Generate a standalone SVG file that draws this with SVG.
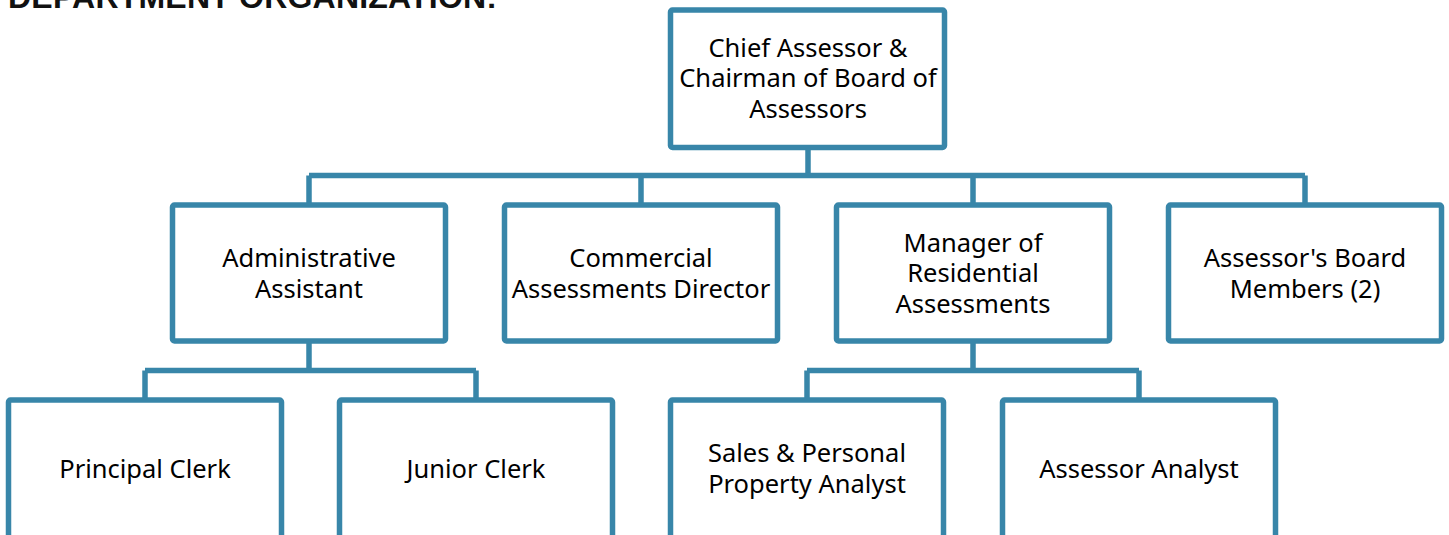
<svg xmlns="http://www.w3.org/2000/svg" width="1449" height="535" viewBox="0 0 1449 535">
<style>
.box{fill:#fff;stroke:#3886a9;stroke-width:5.5;}
.con{fill:none;stroke:#3886a9;stroke-width:5.5;}
.t{font-family:"Noto Sans","Open Sans",sans-serif;font-size:25.5px;fill:#000;text-anchor:middle;}
.title{font-family:"Liberation Sans",Arial,sans-serif;font-weight:bold;font-size:32px;fill:#111;}
</style>
<rect width="1449" height="535" fill="#fff"/>
<text class="title" x="8" y="8" textLength="489">DEPARTMENT ORGANIZATION:</text>
<g id="connectors">
<path class="con" d="M808 147.5V175.5M309 175.5H1305M309 175.5V205M641 175.5V205M973 175.5V205M1305 175.5V205"/>
<path class="con" d="M309 341V370.5M145 370.5H476M145 370.5V400M476 370.5V400"/>
<path class="con" d="M973 341V370.5M807 370.5H1139M807 370.5V400M1139 370.5V400"/>
</g>
<g id="chief"><rect class="box" x="670.5" y="10" width="274" height="137.5" rx="2"/>
<text class="t" x="808" y="56.5">Chief Assessor &amp;</text><text class="t" x="808" y="87.3">Chairman of Board of</text><text class="t" x="808" y="118">Assessors</text></g>
<g id="admin"><rect class="box" x="172.5" y="205" width="273" height="136" rx="2"/>
<text class="t" x="309" y="267.3">Administrative</text><text class="t" x="309" y="297.5">Assistant</text></g>
<g id="commercial"><rect class="box" x="504.5" y="205" width="273" height="136" rx="2"/>
<text class="t" x="641" y="267.3">Commercial</text><text class="t" x="641" y="297.5">Assessments Director</text></g>
<g id="manager"><rect class="box" x="836.5" y="205" width="273" height="136" rx="2"/>
<text class="t" x="973" y="251.5">Manager of</text><text class="t" x="973" y="282">Residential</text><text class="t" x="973" y="313">Assessments</text></g>
<g id="board"><rect class="box" x="1168.5" y="205" width="273" height="136" rx="2"/>
<text class="t" x="1305" y="267.3">Assessor's Board</text><text class="t" x="1305" y="298">Members (2)</text></g>
<g id="principal"><rect class="box" x="8.5" y="400" width="273" height="170" rx="2"/>
<text class="t" x="145" y="478">Principal Clerk</text></g>
<g id="junior"><rect class="box" x="339.5" y="400" width="273" height="170" rx="2"/>
<text class="t" x="476" y="478">Junior Clerk</text></g>
<g id="sales"><rect class="box" x="670.5" y="400" width="273" height="170" rx="2"/>
<text class="t" x="807" y="462">Sales &amp; Personal</text><text class="t" x="807" y="492.5">Property Analyst</text></g>
<g id="analyst"><rect class="box" x="1002.5" y="400" width="273" height="170" rx="2"/>
<text class="t" x="1139" y="478">Assessor Analyst</text></g>
</svg>
